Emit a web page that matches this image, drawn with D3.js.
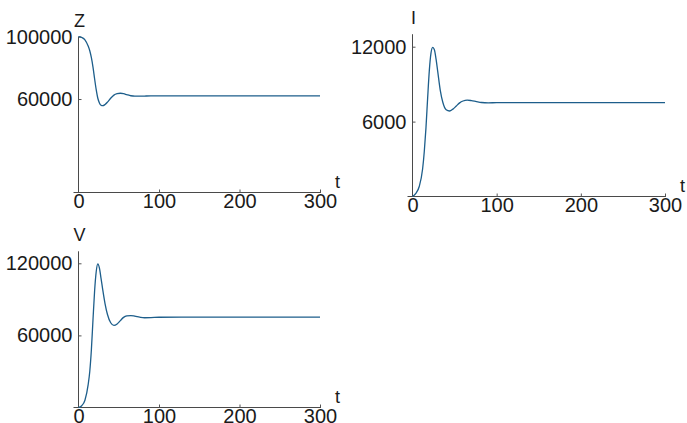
<!DOCTYPE html>
<html>
<head>
<meta charset="utf-8">
<script src="https://cdn.jsdelivr.net/npm/d3@7"></script>
<style>
  body { margin: 0; background: #fff; }
  text { font-family: "Liberation Sans", Arial, Helvetica, sans-serif; fill: #1a1a1a; }
  .tick line { stroke: #555; }
  .axis-line { stroke: #4a4a4a; stroke-width: 1; }
  .curve { fill: none; stroke: #1d5e8b; stroke-width: 1.3; }
</style>
</head>
<body>
<script>
const width = 687;
const height = 423;

// time points
const tValues = [0, 4, 8, 12, 14, 16, 18, 20, 22, 24, 26, 28, 30, 33, 36, 40, 44, 48, 52, 56, 60, 65, 70, 76, 82, 90, 100, 150, 200, 250, 300];

const zValues = [100000, 99500, 98000, 94000, 91000, 86500, 80500, 73000, 66000, 60500, 57500, 56000, 55700, 56500, 58000, 60500, 62500, 63400, 63700, 63400, 62800, 62100, 61800, 61800, 61900, 62000, 62000, 62000, 62000, 62000, 62000];
const iValues = [0, 250, 800, 2200, 3600, 5500, 7900, 10100, 11500, 11950, 11750, 11000, 10000, 8500, 7550, 6950, 6850, 7000, 7250, 7500, 7650, 7720, 7680, 7600, 7530, 7500, 7520, 7520, 7520, 7520, 7520];
const vValues = [0, 1500, 6000, 19000, 30000, 48000, 73000, 97000, 113000, 119500, 116000, 107500, 98500, 86300, 77400, 70500, 68300, 69500, 72300, 75000, 76200, 76500, 76000, 75200, 74700, 74800, 75100, 75200, 75200, 75200, 75200];

const xTicks = [0, 100, 200, 300];
const zTicks = [60000, 100000];
const iTicks = [6000, 12000];
const vTicks = [60000, 120000];

const panels = [
    { name: "Z", values: zValues, ticks: zTicks, tick: 100000, top: 100000,
      x0: 78.5, x1: 320, yBottom: 192.5, yTick: 36.7 },
    { name: "I", values: iValues, ticks: iTicks, tick: 12000, top: 13000,
      x0: 412.5, x1: 665, yBottom: 196.5, yTick: 46.7 },
    { name: "V", values: vValues, ticks: vTicks, tick: 120000, top: 130000,
      x0: 78.5, x1: 320, yBottom: 407.5, yTick: 263.3 },
];

const svg = d3.select("body")
    .append("svg")
    .attr("width", width)
    .attr("height", height);

panels.forEach((p) => {
    const x = d3.scaleLinear().domain([0, 300]).range([p.x0, p.x1]);
    const y = d3.scaleLinear().domain([0, p.tick]).range([p.yBottom, p.yTick]);

    const g = svg.append("g");

    // axis lines: x axis starts a little left of the y axis
    g.append("line")
        .attr("class", "axis-line")
        .attr("x1", p.x0 - 5).attr("x2", p.x1 + 1)
        .attr("y1", p.yBottom).attr("y2", p.yBottom);
    g.append("line")
        .attr("class", "axis-line")
        .attr("x1", p.x0).attr("x2", p.x0)
        .attr("y1", p.yBottom).attr("y2", y(p.top));

    g.append("g")
        .attr("transform", `translate(0,${p.yBottom})`)
        .call(d3.axisBottom(x).tickValues(xTicks).tickSizeInner(-3).tickSizeOuter(0).tickPadding(1))
        .call((a) => a.select(".domain").remove())
        .call((a) => a.selectAll("text").attr("font-size", 20).attr("font-family", null))
        .call((a) => a.selectAll(".tick").filter((d) => d === 0).select("line").remove());

    g.append("g")
        .attr("transform", `translate(${p.x0},0)`)
        .call(d3.axisLeft(y).tickValues(p.ticks).tickFormat(d3.format("d")).tickSizeInner(-3).tickSizeOuter(0).tickPadding(6))
        .call((a) => a.select(".domain").remove())
        .call((a) => a.selectAll("text").attr("font-size", 20).attr("font-family", null));

    const line = d3.line()
        .x((d, i) => x(tValues[i]))
        .y((d) => y(d))
        .curve(d3.curveMonotoneX);

    g.append("path")
        .datum(p.values)
        .attr("class", "curve")
        .attr("d", line);

    // axis names
    g.append("text")
        .attr("x", p.x0 + 1)
        .attr("y", y(p.top) - 10)
        .attr("text-anchor", "middle")
        .attr("font-size", 18)
        .text(p.name);

    g.append("text")
        .attr("x", p.x1 + 15)
        .attr("y", p.yBottom - 5)
        .attr("font-size", 18)
        .text("t");
});
</script>
</body>
</html>
